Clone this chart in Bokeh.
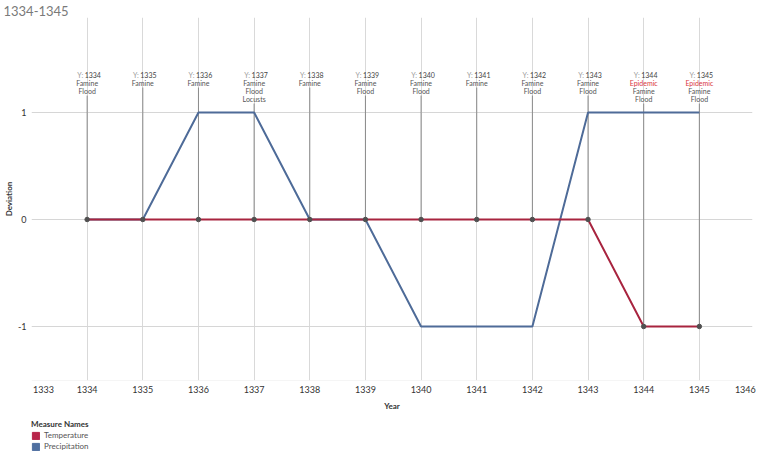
from bokeh.plotting import figure
from bokeh.layouts import column
from bokeh.models import (Range1d, FixedTicker, ColumnDataSource, Legend, LegendItem,
                          Span, CustomJSTickFormatter)
from bokeh.core.properties import value
from bokeh.embed import file_html
from bokeh.resources import INLINE

# ---------------- data ----------------
years = [1334, 1335, 1336, 1337, 1338, 1339, 1340, 1341, 1342, 1343, 1344, 1345]
temperature = [0, 0, 0, 0, 0, 0, 0, 0, 0, 0, -1, -1]
precipitation = [0, 0, 1, 1, 0, 0, -1, -1, -1, 1, 1, 1]
events = [
    ["Famine", "Flood"],
    ["Famine"],
    ["Famine"],
    ["Famine", "Flood", "Locusts"],
    ["Famine"],
    ["Famine", "Flood"],
    ["Famine", "Flood"],
    ["Famine"],
    ["Famine", "Flood"],
    ["Famine", "Flood"],
    ["Epidemic", "Famine", "Flood"],
    ["Epidemic", "Famine", "Flood"],
]
x_ticks = [1334, 1335, 1336, 1337, 1338, 1339, 1340, 1341, 1342, 1343, 1344, 1345]
x_grid_ticks = [1333, 1334, 1335, 1336, 1337, 1338, 1339, 1340, 1341, 1342, 1343, 1344, 1345, 1346]
y_ticks = [-1, 0, 1]
series_names = ["Temperature", "Precipitation"]
title_text = "1334-1345"
legend_title = "Measure Names"

# ---------------- styling ----------------
FONT = "Lato"
TEMP_COLOR = "#a8243f"
PRECIP_COLOR = "#4e6b98"
PX_PER_UNIT = 107.0      # vertical pixels per deviation unit
LINE_H = 8.0             # annotation line height in px
LABEL_Y = 1.355          # data y of first annotation line

x_start, x_end = 1333.0, 1345.955
y_start, y_end = -1.505, 1.888

p = figure(width=757, height=416,
           x_range=Range1d(x_start, x_end), y_range=Range1d(y_start, y_end),
           output_backend="svg", toolbar_location=None,
           min_border_left=30, min_border_right=5, min_border_top=17,
           min_border_bottom=36)
p.outline_line_color = None
p.background_fill_color = "white"

# title
p.title.text = title_text
p.title.text_font = FONT
p.title.text_font_size = "13px"
p.title.text_font_style = "normal"
p.title.text_color = "#7a7a7a"
p.title.align = "left"
p.title.vertical_align = "top"
p.title.offset = -28
p.title.standoff = 0

# grids
p.xgrid.ticker = FixedTicker(ticks=x_grid_ticks)
p.xgrid.grid_line_color = "#d9d9d9"
p.ygrid.ticker = FixedTicker(ticks=y_ticks)
p.ygrid.grid_line_color = "#d6d6d6"
p.add_layout(Span(location=y_start, dimension="width", line_color="#ececec", line_width=1))

# axes: Tableau pulls the outermost year labels inside the plot edge
x_label_pos = [x_start + 12 / 55.73] + x_ticks + [1346 - 9.7 / 55.73]
p.xaxis.ticker = FixedTicker(ticks=x_label_pos)
p.xaxis.formatter = CustomJSTickFormatter(code="return Math.round(tick).toString();")
p.yaxis.ticker = FixedTicker(ticks=y_ticks)
p.yaxis.formatter = CustomJSTickFormatter(code="return tick.toString();")
for ax in (p.xaxis[0], p.yaxis[0]):
    ax.axis_line_color = None
    ax.major_tick_line_color = None
    ax.minor_tick_line_color = None
    ax.major_tick_out = 0
    ax.major_tick_in = 0
    ax.minor_tick_out = 0
    ax.major_label_text_font = FONT
    ax.major_label_text_font_size = "9px"
    ax.major_label_text_color = "#333333"
    ax.axis_label_text_font = FONT
    ax.axis_label_text_font_size = "8px"
    ax.axis_label_text_font_style = "bold"
    ax.axis_label_text_color = "#333333"
p.xaxis.axis_label = "Year"
p.xaxis.major_label_standoff = 5
p.xaxis.axis_label_standoff = 5
p.yaxis.axis_label = "Deviation"
p.yaxis.major_label_standoff = 5
p.yaxis.axis_label_standoff = 1

# annotation leader lines: from below the label to the temperature point
seg_top = []
for ev in events:
    n_lines = 1 + len(ev)
    seg_top.append(LABEL_Y - ((n_lines - 1) * LINE_H + 5) / PX_PER_UNIT)
p.segment(x0=years, y0=seg_top, x1=years, y1=temperature, line_color="#8a8a8a", line_width=1)

# annotation texts
ax_, ay_, atext, acolor, ayoff = [], [], [], [], []
yr_x, yr_y, yr_text = [], [], []
for yr, ev in zip(years, events):
    yr_x.append(yr); yr_y.append(LABEL_Y); yr_text.append(str(yr))
    for i, e in enumerate(ev):
        ax_.append(yr); ay_.append(LABEL_Y); atext.append(e)
        acolor.append("#d9363e" if e == "Epidemic" else "#555555")
        ayoff.append((i + 1) * LINE_H)

p.text(x=yr_x, y=yr_y, text=["Y:"] * len(yr_x), x_offset=-4, text_align="right",
       text_baseline="middle", text_font=value(FONT), text_font_size="7px", text_color="#9a9a9a")
p.text(x=yr_x, y=yr_y, text=yr_text, x_offset=-2.5, text_align="left",
       text_baseline="middle", text_font=value(FONT), text_font_size="7px", text_color="#444444")
ev_src = ColumnDataSource(dict(x=ax_, y=ay_, text=atext, color=acolor, yo=ayoff))
p.text(x="x", y="y", text="text", source=ev_src, y_offset="yo", text_align="center",
       text_baseline="middle", text_font=value(FONT), text_font_size="7px", text_color="color")

# series
p.line(years, precipitation, line_color=PRECIP_COLOR, line_width=2)
p.line(years, temperature, line_color=TEMP_COLOR, line_width=2)
p.scatter(years, temperature, size=4.5, fill_color="#505050", line_color="#505050")

# ---------------- legend (separate strip below) ----------------
lg = figure(width=757, height=35, x_range=Range1d(0, 1), y_range=Range1d(0, 1),
            output_backend="svg", toolbar_location=None,
            x_axis_location=None, y_axis_location=None,
            min_border_left=0, min_border_right=0, min_border_top=0, min_border_bottom=0)
lg.outline_line_color = None
lg.xgrid.visible = False
lg.ygrid.visible = False
# swatch renderers: their single point lies outside the visible range, only the legend shows them
r_t = lg.rect(x=[-5], y=[-5], width=1, height=1, fill_color="#b8254a", line_color="#b8254a")
r_p = lg.rect(x=[-5], y=[-5], width=1, height=1, fill_color="#4f6fa0", line_color="#4f6fa0")
legend = Legend(items=[LegendItem(label=series_names[0], renderers=[r_t]),
                       LegendItem(label=series_names[1], renderers=[r_p])],
                location=(0, 0), title=legend_title,
                title_text_font=FONT, title_text_font_size="8px", title_text_font_style="bold",
                title_text_color="#333333", title_standoff=1,
                label_text_font=FONT, label_text_font_size="8px", label_text_color="#555555",
                glyph_width=9, glyph_height=9, label_height=9, label_standoff=4,
                spacing=1, padding=0, margin=0, border_line_color=None,
                background_fill_alpha=0)
lg.add_layout(legend)

layout = column(p, lg, spacing=0)
open("out.html", "w").write(file_html(layout, INLINE))
